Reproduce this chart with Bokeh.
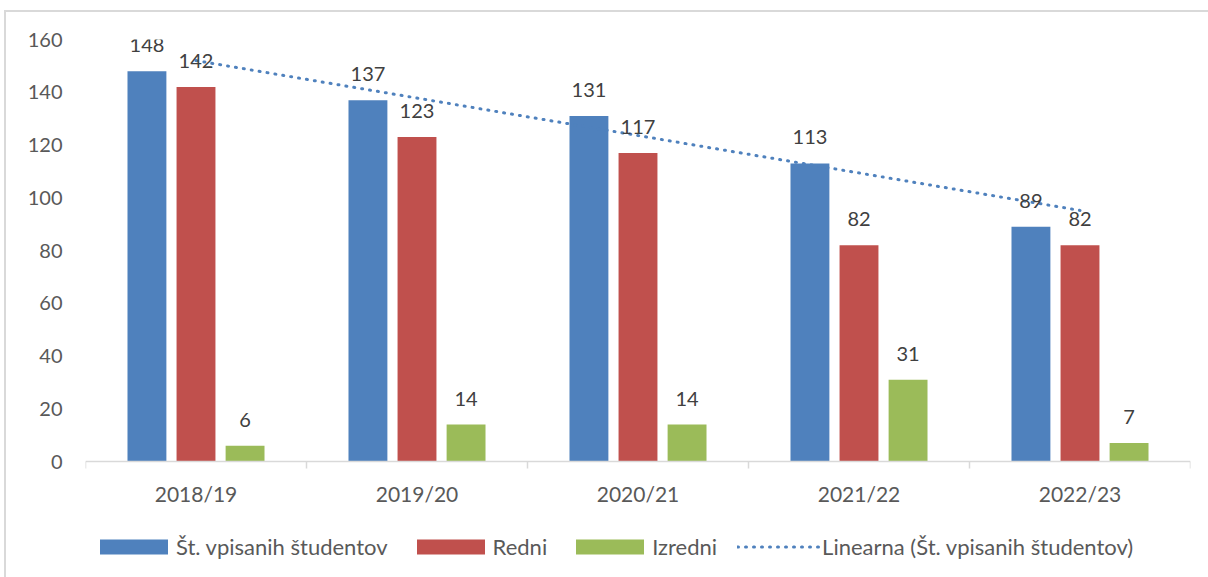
import numpy as np
from bokeh.plotting import figure
from bokeh.models import (Range1d, FixedTicker, ColumnDataSource, Legend,
                          LegendItem)
from bokeh.transform import dodge
from bokeh.core.properties import value
from bokeh.embed import file_html
from bokeh.resources import INLINE

# ---- data ----
years = ["2018/19", "2019/20", "2020/21", "2021/22", "2022/23"]
vpisani = [148, 137, 131, 113, 89]
redni = [142, 123, 117, 82, 82]
izredni = [6, 14, 14, 31, 7]
y_ticks = [0, 20, 40, 60, 80, 100, 120, 140, 160]
series_names = ["Št. vpisanih študentov", "Redni", "Izredni",
                "Linearna (Št. vpisanih študentov)"]

BLUE = "#4F81BD"
RED = "#C0504D"
GREEN = "#9BBB59"
FONT = "Lato"

pos = [i + 0.5 for i in range(len(years))]
src = ColumnDataSource(dict(
    x=pos, vpisani=vpisani, redni=redni, izredni=izredni,
    l_v=[str(v) for v in vpisani], l_r=[str(v) for v in redni],
    l_i=[str(v) for v in izredni],
))

# linear trendline of the first series (as in the spreadsheet)
coef = np.polyfit(pos, vpisani, 1)
trend_x = [pos[0], pos[-1]]
trend_y = list(np.polyval(coef, trend_x))

# plot area: 160 units over 422 px; extra room below 0 holds axis labels
# and the legend (drawn inside the frame)
Y_TOP = 160
PX_PER_UNIT = 422 / Y_TOP
Y_BOTTOM = -118 / PX_PER_UNIT

p = figure(frame_width=1105, frame_height=540,
           x_range=Range1d(0, len(years)), y_range=Range1d(Y_BOTTOM, Y_TOP),
           output_backend="svg", toolbar_location=None,
           min_border_left=79, min_border_right=18,
           min_border_top=27, min_border_bottom=0,
           styles={"margin-top": "10px", "margin-left": "4px",
                   "border-top": "2px solid #D9D9D9",
                   "border-left": "2px solid #D9D9D9"})
p.outline_line_color = None
p.xgrid.visible = False
p.ygrid.visible = False
p.background_fill_color = "white"
p.border_fill_color = "white"

OFF = 0.222
W = 0.176
r1 = p.vbar(x=dodge("x", -OFF), top="vpisani", width=W, source=src,
            fill_color=BLUE, line_color=None)
r2 = p.vbar(x=dodge("x", 0), top="redni", width=W, source=src,
            fill_color=RED, line_color=None)
r3 = p.vbar(x=dodge("x", OFF), top="izredni", width=W, source=src,
            fill_color=GREEN, line_color=None)
rl = p.line(x=trend_x, y=trend_y, line_color=BLUE, line_width=3,
            line_dash="1 7", line_cap="round")

for off, col in [(-OFF, "vpisani"), (0, "redni"), (OFF, "izredni")]:
    lab = {"vpisani": "l_v", "redni": "l_r", "izredni": "l_i"}[col]
    p.text(x=dodge("x", off), y=col, text=lab, source=src,
           text_align="center", text_baseline="middle", y_offset=-26,
           text_font=value(FONT), text_font_size="20px",
           text_color="#404040")

# x axis (sits at y = 0)
xa = p.xaxis[0]
xa.fixed_location = 0
xa.ticker = FixedTicker(ticks=pos, minor_ticks=list(range(len(years) + 1)))
xa.major_label_overrides = {x: y for x, y in zip(pos, years)}
xa.major_tick_line_color = None
xa.major_tick_out = 0
xa.major_tick_in = 0
xa.minor_tick_out = 7
xa.minor_tick_in = 0
xa.minor_tick_line_color = "#D9D9D9"
xa.minor_tick_line_width = 1.5
xa.axis_line_color = "#D9D9D9"
xa.axis_line_width = 1.5
xa.major_label_standoff = 12
xa.major_label_text_font = FONT
xa.major_label_text_font_size = "21px"
xa.major_label_text_color = "#595959"

# y axis
ya = p.yaxis[0]
ya.ticker = FixedTicker(ticks=y_ticks)
ya.axis_line_color = None
ya.major_tick_line_color = None
ya.minor_tick_line_color = None
ya.major_tick_out = 0
ya.major_tick_in = 0
ya.major_label_standoff = 23
ya.major_label_text_font = FONT
ya.major_label_text_font_size = "20px"
ya.major_label_text_color = "#595959"

legend = Legend(items=[
    LegendItem(label=series_names[0], renderers=[r1]),
    LegendItem(label=series_names[1], renderers=[r2]),
    LegendItem(label=series_names[2], renderers=[r3]),
    LegendItem(label=series_names[3], renderers=[rl]),
], orientation="horizontal", location=(6, 19),
    glyph_width=85, glyph_height=19, label_standoff=0, spacing=20,
    label_text_font=FONT, label_text_font_size="22px",
    label_text_color="#595959", border_line_color=None,
    background_fill_alpha=0, padding=0, margin=0)
p.add_layout(legend, "center")

open("out.html", "w").write(file_html(p, INLINE))
